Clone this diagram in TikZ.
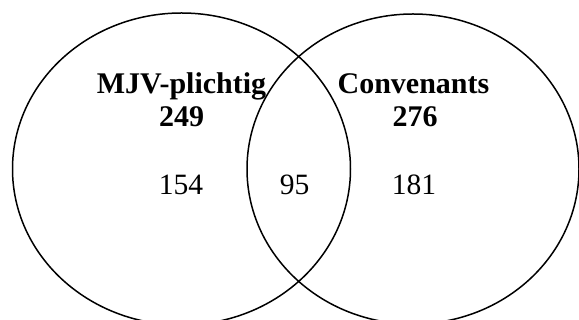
\documentclass[tikz,border=0pt]{standalone}
\usepackage{fontspec}
\setmainfont{Liberation Serif}
\begin{document}
\begin{tikzpicture}[x=1pt,y=1pt,
  setline/.style={line width=1.5pt},
  setlabel/.style={anchor=base,inner sep=0pt,font=\fontsize{30}{33}\selectfont\bfseries},
  setcount/.style={anchor=base,inner sep=0pt,font=\fontsize{29.5}{33}\selectfont}]
\useasboundingbox (0,0) rectangle (579,320);
\clip (0,0) rectangle (579,320);
% the two sets
\draw[setline] (181.5,151) ellipse [x radius=169, y radius=156];
\draw[setline] (413,151) ellipse [x radius=166, y radius=155];
% set names and totals
\node[setlabel] (mjv) at (181.5,226) {MJV-plichtig};
\node[setlabel] (mjvtotal) at (181.5,193) {249};
\node[setlabel] (conv) at (413.5,226) {Convenants};
\node[setlabel] (convtotal) at (415,193) {276};
% region counts
\node[setcount] (onlymjv) at (181,125) {154};
\node[setcount] (both) at (294.5,125) {95};
\node[setcount] (onlyconv) at (414,125) {181};
\end{tikzpicture}
\end{document}
